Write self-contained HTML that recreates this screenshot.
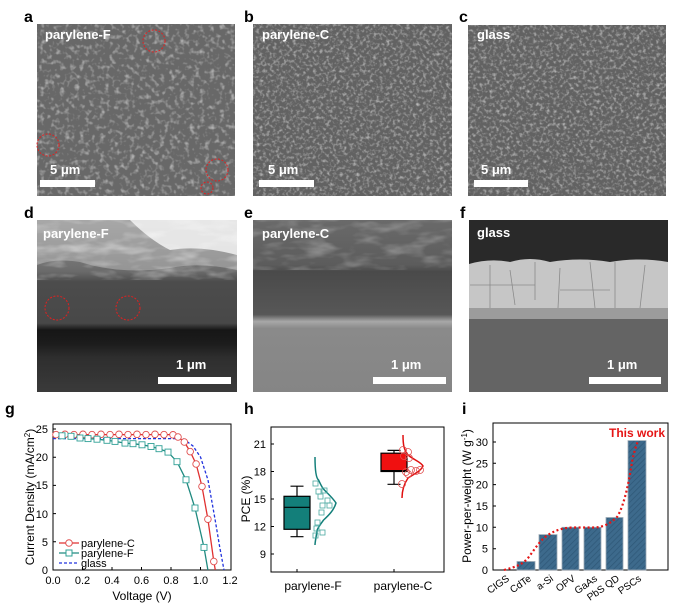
<!DOCTYPE html><html><head><style>body{margin:0;background:#fff}svg{display:block}text{font-family:"Liberation Sans",sans-serif}</style></head><body>
<svg width="700" height="616" viewBox="0 0 700 616" xmlns="http://www.w3.org/2000/svg">
<defs>
<filter id="n1" x="0" y="0" width="100%" height="100%"><feTurbulence type="fractalNoise" baseFrequency="0.2" numOctaves="2" seed="3"/><feColorMatrix type="matrix" values="0 0 0 0 1 0 0 0 0 1 0 0 0 0 1 1.6 0 0 0 -0.8"/></filter>
<filter id="n2" x="0" y="0" width="100%" height="100%"><feTurbulence type="fractalNoise" baseFrequency="0.3" numOctaves="2" seed="7"/><feColorMatrix type="matrix" values="0 0 0 0 1 0 0 0 0 1 0 0 0 0 1 1.6 0 0 0 -0.75"/></filter>
<filter id="n3" x="0" y="0" width="100%" height="100%"><feTurbulence type="fractalNoise" baseFrequency="0.03 0.09" numOctaves="3" seed="2"/><feColorMatrix type="matrix" values="0 0 0 0 1 0 0 0 0 1 0 0 0 0 1 2.0 0 0 0 -0.9"/></filter>
<linearGradient id="gd" x1="0" y1="0" x2="0" y2="1"><stop offset="0" stop-color="#9a9a9a"/><stop offset="0.3" stop-color="#6a6a6a"/><stop offset="0.36" stop-color="#4c4c4c"/><stop offset="0.6" stop-color="#484848"/><stop offset="0.64" stop-color="#161616"/><stop offset="0.72" stop-color="#1c1c1c"/><stop offset="0.8" stop-color="#2e2e2e"/><stop offset="1" stop-color="#3a3a3a"/></linearGradient>
<linearGradient id="ge" x1="0" y1="0" x2="0" y2="1"><stop offset="0" stop-color="#6a6a6a"/><stop offset="0.26" stop-color="#5c5c5c"/><stop offset="0.3" stop-color="#4a4a4a"/><stop offset="0.55" stop-color="#575757"/><stop offset="0.59" stop-color="#a8a8a8"/><stop offset="0.63" stop-color="#8a8a8a"/><stop offset="1" stop-color="#858585"/></linearGradient>
<pattern id="hat" width="4" height="4" patternUnits="userSpaceOnUse" patternTransform="rotate(45)"><rect width="4" height="4" fill="#3d6a8c"/><line x1="0" y1="0" x2="0" y2="4" stroke="#2f5878" stroke-width="1.5"/></pattern>
</defs>
<g font-weight="bold" font-size="16" fill="#000"><text x="24" y="22">a</text><text x="244" y="22">b</text><text x="459" y="22">c</text><text x="24" y="218">d</text><text x="244" y="218">e</text><text x="460" y="218">f</text></g>
<rect x="37" y="24" width="198" height="172" fill="#686868"/><rect x="37" y="24" width="198" height="172" filter="url(#n1)" opacity="0.8"/>
<rect x="253" y="24" width="199" height="172" fill="#626262"/><rect x="253" y="24" width="199" height="172" filter="url(#n2)" opacity="0.8"/>
<rect x="468" y="25" width="198" height="171" fill="#626262"/><rect x="468" y="25" width="198" height="171" filter="url(#n2)" opacity="0.8"/>
<rect x="37" y="220" width="200" height="172" fill="url(#gd)"/>
<path d="M37 220 H237 V270 Q200 262 170 268 Q120 275 80 262 Q55 258 37 265Z" fill="#b0b0b0" opacity="0.6"/>
<path d="M130 220 H237 V255 Q200 245 170 250 Q150 240 130 220Z" fill="#f2f2f2" opacity="0.85"/>
<rect x="37" y="220" width="200" height="60" filter="url(#n3)" opacity="0.5"/>
<rect x="253" y="220" width="199" height="172" fill="url(#ge)"/>
<rect x="253" y="220" width="199" height="50" filter="url(#n3)" opacity="0.35"/>
<rect x="469" y="220" width="199" height="172" fill="#646464"/>
<rect x="469" y="220" width="199" height="44" fill="#292929"/>
<path d="M469 264 Q490 258 510 262 Q530 256 550 262 Q580 257 610 262 Q640 257 668 262 V308 H469Z" fill="#c6c6c6"/>
<g stroke="#8a8a8a" stroke-width="0.8" fill="none"><path d="M490 265 V308 M510 270 L515 305 M535 262 V300 M560 268 L558 308 M590 262 L595 308 M615 262 V308 M645 265 L640 308 M470 285 H535 M560 290 H610"/></g>
<rect x="469" y="308" width="199" height="11" fill="#9c9c9c"/>
<g fill="#fff" font-weight="bold" font-size="13"><text x="45" y="39">parylene-F</text><text x="262" y="39">parylene-C</text><text x="477" y="39">glass</text><text x="43" y="238">parylene-F</text><text x="262" y="238">parylene-C</text><text x="477" y="237">glass</text>
<text x="50" y="174">5 μm</text><text x="268" y="174">5 μm</text><text x="481" y="174">5 μm</text><text x="176" y="369">1 μm</text><text x="391" y="369">1 μm</text><text x="607" y="369">1 μm</text></g>
<g fill="#fff"><rect x="40" y="180" width="55" height="7"/><rect x="259" y="180" width="55" height="7"/><rect x="474" y="180" width="54" height="7"/><rect x="158" y="377" width="73" height="7"/><rect x="373" y="377" width="73" height="7"/><rect x="589" y="377" width="72" height="7"/></g>
<g fill="none" stroke="#e02020" stroke-width="1" stroke-dasharray="2,1.5"><circle cx="154" cy="41" r="11"/><circle cx="48" cy="145" r="11"/><circle cx="217" cy="170" r="11"/><circle cx="207" cy="188" r="6"/><circle cx="57" cy="308" r="12"/><circle cx="128" cy="308" r="12"/></g>
<g font-weight="bold" font-size="16"><text x="5" y="414">g</text><text x="244" y="414">h</text><text x="462" y="414">i</text></g>
<g font-size="11" fill="#000">
<rect x="53" y="424" width="178" height="146" fill="none" stroke="#000" stroke-width="1"/>
<g text-anchor="end"><text x="48" y="433">25</text><text x="48" y="461">20</text><text x="48" y="489">15</text><text x="48" y="518">10</text><text x="48" y="546">5</text><text x="48" y="574">0</text></g>
<g stroke="#000"><path d="M53 429h3M53 457.2h3M53 485.4h3M53 513.6h3M53 541.8h3M82.5 570v-3M112 570v-3M141.5 570v-3M171 570v-3M200.5 570v-3"/></g>
<g text-anchor="middle"><text x="53" y="584">0.0</text><text x="82.5" y="584">0.2</text><text x="112" y="584">0.4</text><text x="141.5" y="584">0.6</text><text x="171" y="584">0.8</text><text x="200.5" y="584">1.0</text><text x="230" y="584">1.2</text>
<text x="142" y="600" font-size="12">Voltage (V)</text>
<text transform="translate(34,497) rotate(-90)" font-size="12">Current Density (mA/cm<tspan font-size="8" dy="-4">2</tspan><tspan dy="4">)</tspan></text></g>
</g>
<path d="M53 438.6 L183 438.6 L193 446 L200.5 457 L208 480 L215 519 L219.7 547 L224 570" fill="none" stroke="#2233dd" stroke-width="1.3" stroke-dasharray="3,2"/>
<path d="M53 434.6 L170 434.6 L178 437 L184.3 442 L190.2 451.6 L196.1 464 L202 486.5 L207.9 519.2 L213.8 561.5 L215.3 570" fill="none" stroke="#e03030" stroke-width="1.3"/>
<path d="M53 435.5 L62 435.8 L71 436.3 L80 438 L88 438.6 L97 439.2 L107 440.3 L115 441.4 L125 443.1 L133 443.7 L142 444.8 L151 446.5 L159 448.7 L168 452.1 L177 461.7 L186 479.8 L195 508 L204 547.4 L207.9 570" fill="none" stroke="#208a80" stroke-width="1.3"/>
<g fill="#fff" stroke="#e05050" stroke-width="0.9"><circle cx="56" cy="434.6" r="3.3"/><circle cx="65" cy="434.3" r="3.3"/><circle cx="74" cy="434.6" r="3.3"/><circle cx="83" cy="434.3" r="3.3"/><circle cx="92" cy="434.6" r="3.3"/><circle cx="101" cy="434.3" r="3.3"/><circle cx="110" cy="434.6" r="3.3"/><circle cx="119" cy="434.3" r="3.3"/><circle cx="128" cy="434.6" r="3.3"/><circle cx="137" cy="434.3" r="3.3"/><circle cx="146" cy="434.6" r="3.3"/><circle cx="155" cy="434.3" r="3.3"/><circle cx="164" cy="434.6" r="3.3"/><circle cx="173" cy="434.8" r="3.3"/><circle cx="178" cy="437" r="3.3"/><circle cx="184.3" cy="442" r="3.3"/><circle cx="190.2" cy="451.6" r="3.3"/><circle cx="196.1" cy="464" r="3.3"/><circle cx="202" cy="486.5" r="3.3"/><circle cx="207.9" cy="519.2" r="3.3"/><circle cx="213.8" cy="561.5" r="3.3"/></g>
<g fill="#fff" stroke="#30a096" stroke-width="0.9"><rect x="59" y="432.8" width="6" height="6"/><rect x="68" y="433.3" width="6" height="6"/><rect x="77" y="435" width="6" height="6"/><rect x="85" y="435.6" width="6" height="6"/><rect x="94" y="436.2" width="6" height="6"/><rect x="104" y="437.3" width="6" height="6"/><rect x="112" y="438.4" width="6" height="6"/><rect x="122" y="440.1" width="6" height="6"/><rect x="130" y="440.7" width="6" height="6"/><rect x="139" y="441.8" width="6" height="6"/><rect x="148" y="443.5" width="6" height="6"/><rect x="156" y="445.7" width="6" height="6"/><rect x="165" y="449.1" width="6" height="6"/><rect x="174" y="458.7" width="6" height="6"/><rect x="183" y="476.8" width="6" height="6"/><rect x="192" y="505" width="6" height="6"/><rect x="201" y="544.4" width="6" height="6"/></g>
<g font-size="11"><line x1="59" y1="543" x2="79" y2="543" stroke="#e03030" stroke-width="1.3"/><circle cx="69" cy="543" r="3.3" fill="#fff" stroke="#e05050"/><text x="81" y="547">parylene-C</text>
<line x1="59" y1="553" x2="79" y2="553" stroke="#208a80" stroke-width="1.3"/><rect x="66" y="550" width="6" height="6" fill="#fff" stroke="#30a096"/><text x="81" y="557">parylene-F</text>
<line x1="59" y1="563" x2="79" y2="563" stroke="#2233dd" stroke-width="1.3" stroke-dasharray="3,2"/><text x="81" y="567">glass</text></g>
<rect x="271" y="427" width="173" height="145" fill="none" stroke="#000"/>
<g font-size="11" text-anchor="end"><text x="266" y="448">21</text><text x="266" y="475.5">18</text><text x="266" y="503">15</text><text x="266" y="530.5">12</text><text x="266" y="558">9</text></g>
<g stroke="#000"><path d="M271 444h3M271 471.5h3M271 499h3M271 526.5h3M271 554h3M297 572v-3M394 572v-3"/></g>
<text transform="translate(250,499) rotate(-90)" font-size="12" text-anchor="middle">PCE (%)</text>
<g font-size="12" text-anchor="middle"><text x="313" y="590">parylene-F</text><text x="403" y="590">parylene-C</text></g>
<g stroke="#000" stroke-width="1.2"><path d="M297 486.2V496.3M297 529.3V536.7M290.5 486.2h13M290.5 536.7h13M394 450.4V453.2M394 471.5V484.3M387.5 450.4h13M387.5 484.3h13"/>
<rect x="284" y="496.3" width="26" height="33" fill="#137f7a"/><line x1="284" y1="507.3" x2="310" y2="507.3"/>
<rect x="381" y="453.2" width="26" height="18.3" fill="#f01010"/><line x1="381" y1="470.6" x2="407" y2="470.6"/></g>
<path d="M315 457 C315 470 316 478 318.5 480 C321 485 322 488 324.4 490 C328 494 332 497 336 503 C334 510 329 515 323.6 520 C319 526 317 530 317.2 530 C316 538 315 542 315 545" fill="none" stroke="#137f7a" stroke-width="1.5"/>
<path d="M403 435 C403 445 404 450 408 455 C414 460 421 462 423 466 C421 471 414 474 408 478 C404 484 402 490 402 498" fill="none" stroke="#e01010" stroke-width="1.5"/>
<g fill="none" stroke="#4aa8a0" stroke-width="0.8"><rect x="313" y="481" width="5" height="5"/><rect x="316" y="489" width="5" height="5"/><rect x="322" y="488" width="5" height="5"/><rect x="318" y="494" width="5" height="5"/><rect x="325" y="498" width="5" height="5"/><rect x="320" y="503" width="5" height="5"/><rect x="327" y="503" width="5" height="5"/><rect x="319" y="510" width="5" height="5"/><rect x="315" y="520" width="5" height="5"/><rect x="314" y="526" width="5" height="5"/><rect x="320" y="530" width="5" height="5"/><rect x="313" y="533" width="5" height="5"/></g>
<g fill="none" stroke="#e05050" stroke-width="0.8"><circle cx="403" cy="450" r="3.5"/><circle cx="408" cy="452" r="3.5"/><circle cx="404" cy="456" r="3.5"/><circle cx="409" cy="458" r="3.5"/><circle cx="406" cy="472" r="3.5"/><circle cx="411" cy="470" r="3.5"/><circle cx="416" cy="471" r="3.5"/><circle cx="420" cy="470" r="3.5"/><circle cx="408" cy="474" r="3.5"/><circle cx="402" cy="484" r="3.5"/></g>
<rect x="493" y="423" width="175" height="147" fill="none" stroke="#000"/>
<g font-size="11" text-anchor="end"><text x="488" y="574">0</text><text x="488" y="552.7">5</text><text x="488" y="531.3">10</text><text x="488" y="510">15</text><text x="488" y="488.6">20</text><text x="488" y="467.3">25</text><text x="488" y="446">30</text></g>
<g stroke="#000"><path d="M493 548.7h3M493 527.3h3M493 506h3M493 484.6h3M493 463.3h3M493 442h3"/></g>
<text transform="translate(471,496) rotate(-90)" font-size="12" text-anchor="middle">Power-per-weight (W g<tspan font-size="8" dy="-4">-1</tspan><tspan dy="4">)</tspan></text>
<g fill="url(#hat)" stroke="#9aa8b4" stroke-width="0.8"><rect x="517" y="561.5" width="18" height="8.5"/><rect x="539" y="534.6" width="18" height="35.4"/><rect x="562" y="527.3" width="17" height="42.7"/><rect x="584" y="527.3" width="17" height="42.7"/><rect x="606" y="517.5" width="17" height="52.5"/><rect x="628" y="440.6" width="18" height="129.4"/></g>
<path d="M504 570 C515 567 522 565 528 558 C535 549 540 540 548 535 C556 530 562 528 572 527.5 L595 527.5 C605 527 612 522 617 517 C625 505 630 475 632 462 C634 452 636 446 638 441" fill="none" stroke="#e51515" stroke-width="2.2" stroke-dasharray="2,2.5"/>
<text x="609" y="437" font-size="12" font-weight="bold" fill="#e51515">This work</text>
<g font-size="10" text-anchor="end"><text transform="translate(510,580) rotate(-35)">CIGS</text><text transform="translate(532,580) rotate(-35)">CdTe</text><text transform="translate(554,580) rotate(-35)">a-Si</text><text transform="translate(576,580) rotate(-35)">OPV</text><text transform="translate(598,580) rotate(-35)">GaAs</text><text transform="translate(620,580) rotate(-35)">PbS QD</text><text transform="translate(642,580) rotate(-35)">PSCs</text></g>
</svg></body></html>
